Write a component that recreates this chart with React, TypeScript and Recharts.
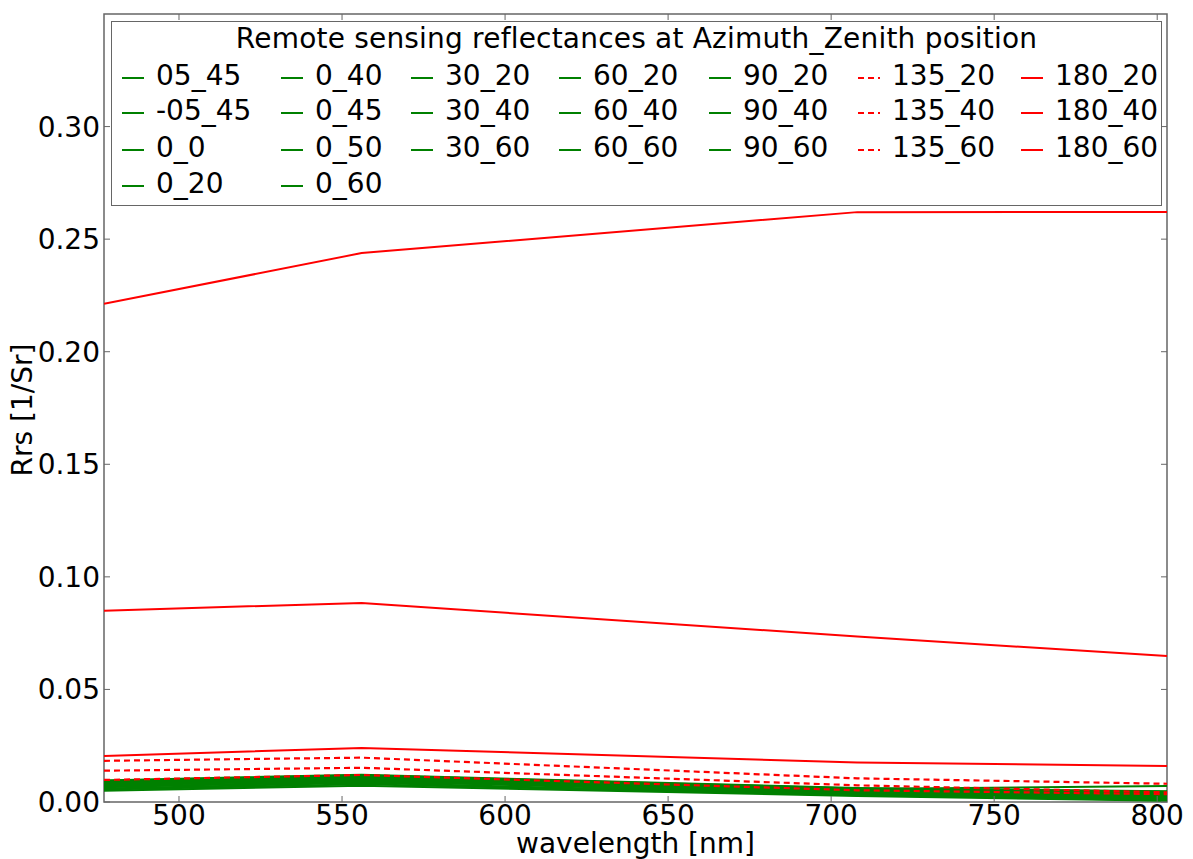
import { Legend, Line, LineChart, ReferenceArea, XAxis, YAxis } from "recharts";

// band centres of the sensor [nm]
const wavelengths = [477, 556, 708, 803];

// Rrs per azimuth_zenith viewing position, one value per band
const rrs05_45 = [0.0096, 0.0121, 0.0062, 0.0048];
const rrsM05_45 = [0.0094, 0.0119, 0.006, 0.0046];
const rrs0_0 = [0.0068, 0.0088, 0.0058, 0.0071];
const rrs0_20 = [0.009, 0.0115, 0.0057, 0.004];
const rrs0_40 = [0.0086, 0.0112, 0.0053, 0.0035];
const rrs0_45 = [0.0084, 0.011, 0.0051, 0.0032];
const rrs0_50 = [0.0082, 0.0108, 0.0049, 0.003];
const rrs0_60 = [0.008, 0.0105, 0.0046, 0.0026];
const rrs30_20 = [0.0092, 0.0117, 0.0055, 0.0038];
const rrs30_40 = [0.0088, 0.0113, 0.005, 0.0031];
const rrs30_60 = [0.0081, 0.0106, 0.0044, 0.0022];
const rrs60_20 = [0.0076, 0.0101, 0.0042, 0.002];
const rrs60_40 = [0.0072, 0.0098, 0.0038, 0.0016];
const rrs60_60 = [0.0066, 0.0093, 0.0035, 0.0012];
const rrs90_20 = [0.006, 0.0085, 0.0032, 0.001];
const rrs90_40 = [0.0055, 0.0079, 0.003, 0.0008];
const rrs90_60 = [0.005, 0.0072, 0.0027, 0.0005];
const rrs135_20 = [0.0183, 0.0197, 0.0105, 0.0081];
const rrs135_40 = [0.0139, 0.0152, 0.0074, 0.0043];
const rrs135_60 = [0.0098, 0.012, 0.0052, 0.0035];
const rrs180_20 = [0.0204, 0.024, 0.0175, 0.016];
const rrs180_40 = [0.085, 0.0884, 0.0735, 0.0648];
const rrs180_60 = [0.2213, 0.2438, 0.262, 0.2621];

const xTicks = [500, 550, 600, 650, 700, 750, 800];
const yTicks = [0, 0.05, 0.1, 0.15, 0.2, 0.25, 0.3];

const GREEN = "#008000";
const RED = "#ff0000";

type Series = { name: string; values: number[]; color: string; dashed?: boolean };

const series: Series[] = [
  { name: "05_45", values: rrs05_45, color: GREEN },
  { name: "-05_45", values: rrsM05_45, color: GREEN },
  { name: "0_0", values: rrs0_0, color: GREEN },
  { name: "0_20", values: rrs0_20, color: GREEN },
  { name: "0_40", values: rrs0_40, color: GREEN },
  { name: "0_45", values: rrs0_45, color: GREEN },
  { name: "0_50", values: rrs0_50, color: GREEN },
  { name: "0_60", values: rrs0_60, color: GREEN },
  { name: "30_20", values: rrs30_20, color: GREEN },
  { name: "30_40", values: rrs30_40, color: GREEN },
  { name: "30_60", values: rrs30_60, color: GREEN },
  { name: "60_20", values: rrs60_20, color: GREEN },
  { name: "60_40", values: rrs60_40, color: GREEN },
  { name: "60_60", values: rrs60_60, color: GREEN },
  { name: "90_20", values: rrs90_20, color: GREEN },
  { name: "90_40", values: rrs90_40, color: GREEN },
  { name: "90_60", values: rrs90_60, color: GREEN },
  { name: "135_20", values: rrs135_20, color: RED, dashed: true },
  { name: "135_40", values: rrs135_40, color: RED, dashed: true },
  { name: "135_60", values: rrs135_60, color: RED, dashed: true },
  { name: "180_20", values: rrs180_20, color: RED },
  { name: "180_40", values: rrs180_40, color: RED },
  { name: "180_60", values: rrs180_60, color: RED },
];

const rows = wavelengths.map((wl, i) => {
  const row: Record<string, number> = { wl };
  series.forEach((s) => {
    row[s.name] = s.values[i];
  });
  return row;
});

const W = 1193;
const H = 859;
const PLOT = { left: 104, right: 1167, top: 14, bottom: 802 };
const FONT = "'DejaVu Sans', sans-serif";
const FRAME = "#666";
const TICK_LEN = 6;

const XTick = (props: any) => {
  const { x, payload } = props;
  return (
    <g>
      <line x1={x} x2={x} y1={PLOT.bottom} y2={PLOT.bottom - TICK_LEN} stroke={FRAME} />
      <line x1={x} x2={x} y1={PLOT.top} y2={PLOT.top + TICK_LEN} stroke={FRAME} />
      <text x={x} y={825} textAnchor="middle" fontSize={28} fontFamily={FONT} fill="#000">
        {payload.value}
      </text>
    </g>
  );
};

const YTick = (props: any) => {
  const { y, payload } = props;
  return (
    <g>
      <line x1={PLOT.left} x2={PLOT.left + TICK_LEN} y1={y} y2={y} stroke={FRAME} />
      <line x1={PLOT.right} x2={PLOT.right - TICK_LEN} y1={y} y2={y} stroke={FRAME} />
      <text x={PLOT.left - 4} y={y + 10} textAnchor="end" fontSize={28} fontFamily={FONT} fill="#000">
        {Number(payload.value).toFixed(2)}
      </text>
    </g>
  );
};

// legend: 7 columns filled top-down, the first two get four entries
const colSizes = [4, 4, 3, 3, 3, 3, 3];
const colX = [10, 169, 299, 447, 597, 746, 909];
const rowY = [56, 91, 128, 164];
const LEGEND_BOX = { left: 111, top: 21, width: 1051, height: 185 };

const legendSlots = (() => {
  const out: { s: Series; col: number; row: number }[] = [];
  let k = 0;
  colSizes.forEach((n, col) => {
    for (let row = 0; row < n; row++) {
      out.push({ s: series[k], col, row });
      k++;
    }
  });
  return out;
})();

const renderLegend = () => (
  <div
    style={{
      position: "relative",
      width: LEGEND_BOX.width,
      height: LEGEND_BOX.height,
      boxSizing: "border-box",
      border: `1.5px solid ${FRAME}`,
      background: "#fff",
      fontFamily: FONT,
      fontSize: 28,
      color: "#000",
      lineHeight: "34px",
    }}
  >
    <div style={{ position: "absolute", left: 0, right: 0, top: 0, textAlign: "center", letterSpacing: 0.2 }}>
      Remote sensing reflectances at Azimuth_Zenith position
    </div>
    {legendSlots.map(({ s, col, row }) => (
      <div
        key={s.name}
        style={{
          position: "absolute",
          left: colX[col],
          top: rowY[row] - 19,
          height: 34,
          display: "flex",
          alignItems: "center",
          whiteSpace: "nowrap",
        }}
      >
        <svg width={22} height={34} style={{ marginRight: 12 }}>
          <line
            x1={0}
            x2={22}
            y1={19}
            y2={19}
            stroke={s.color}
            strokeWidth={2}
            strokeDasharray={s.dashed ? "6 4" : undefined}
          />
        </svg>
        <span>{s.name}</span>
      </div>
    ))}
  </div>
);

export default function App() {
  return (
    <div style={{ position: "absolute", left: 0, top: 0, width: W, height: H, background: "#fff" }}>
      <LineChart
        width={W}
        height={H}
        data={rows}
        margin={{ top: PLOT.top, right: W - PLOT.right, bottom: 0, left: 0 }}
      >
        <XAxis
          dataKey="wl"
          type="number"
          domain={[477, 803]}
          ticks={xTicks}
          allowDataOverflow
          height={H - PLOT.bottom}
          axisLine={false}
          tickLine={false}
          tickSize={0}
          tick={<XTick />}
          interval={0}
          label={{
            content: () => (
              <text x={(PLOT.left + PLOT.right) / 2} y={853} textAnchor="middle" fontSize={28} fontFamily={FONT} fill="#000">
                wavelength [nm]
              </text>
            ),
          }}
        />
        <YAxis
          type="number"
          domain={[0, 0.35]}
          ticks={yTicks}
          allowDataOverflow
          width={PLOT.left}
          axisLine={false}
          tickLine={false}
          tickSize={0}
          tick={<YTick />}
          interval={0}
          label={{
            content: () => (
              <text
                x={32}
                y={410}
                transform="rotate(-90 32 410)"
                textAnchor="middle"
                fontSize={28}
                fontFamily={FONT}
                fill="#000"
              >
                Rrs [1/Sr]
              </text>
            ),
          }}
        />
        {series.map((s) => (
          <Line
            key={s.name}
            type="linear"
            dataKey={s.name}
            name={s.name}
            stroke={s.color}
            strokeWidth={s.dashed ? 2.2 : 2}
            strokeDasharray={s.dashed ? "6 4" : undefined}
            dot={false}
            activeDot={false}
            isAnimationActive={false}
          />
        ))}
        <ReferenceArea
          x1={477}
          x2={803}
          y1={0}
          y2={0.35}
          fill="none"
          stroke={FRAME}
          strokeWidth={1.5}
          ifOverflow="visible"
        />
        <Legend
          verticalAlign="middle"
          align="center"
          layout="horizontal"
          wrapperStyle={{ left: LEGEND_BOX.left, top: LEGEND_BOX.top, width: LEGEND_BOX.width, height: LEGEND_BOX.height }}
          content={renderLegend}
        />
      </LineChart>
    </div>
  );
}
